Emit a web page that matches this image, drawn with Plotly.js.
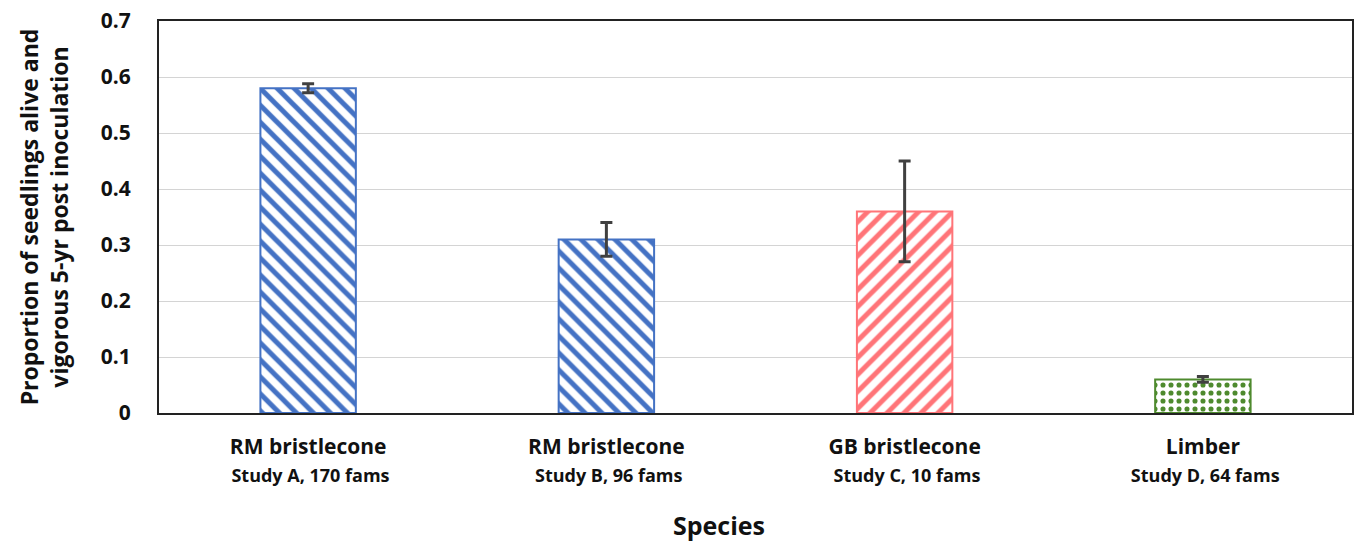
<!DOCTYPE html>
<html>
<head>
<meta charset="utf-8">
<script src="https://cdn.plot.ly/plotly-3.0.1.min.js"></script>
<style>html,body{margin:0;padding:0;background:#fff;}#chart{width:1354px;height:545px;}</style>
</head>
<body>
<div id="chart"></div>
<script>
const species = ["RM bristlecone", "RM bristlecone", "GB bristlecone", "Limber"];
const studies = ["Study A, 170 fams", "Study B, 96 fams", "Study C, 10 fams", "Study D, 64 fams"];
const values = [0.58, 0.31, 0.36, 0.06];
const errors = [0.008, 0.03, 0.09, 0.005];
const yTicks = [0, 0.1, 0.2, 0.3, 0.4, 0.5, 0.6, 0.7];
const yTickLabels = ["0", "0.1", "0.2", "0.3", "0.4", "0.5", "0.6", "0.7"];

const barColors = ["#4472C4", "#4472C4", "#FF7478", "#4E8A2E"];
const barPatterns = ["\\", "\\", "/", "."];

const FONT = "'Open Sans', sans-serif";
const cats = species.map((s, i) => "c" + i);
const tickText = species.map((s, i) =>
  "<b>" + s + "</b><br><span style='font-size:18px'><b>&nbsp;" + studies[i] + "</b></span>");

const trace = {
  type: "bar",
  x: cats,
  y: values,
  width: 0.32,
  marker: {
    color: "#ffffff",
    line: {color: barColors, width: 2},
    pattern: {
      shape: barPatterns,
      fgcolor: barColors,
      bgcolor: "#ffffff",
      fillmode: "replace",
      size: [12, 12, 12, 8],
      solidity: [0.42, 0.42, 0.42, 0.32]
    }
  },
  error_y: {type: "data", array: errors, visible: true, color: "#404040", thickness: 3, width: 6},
  hoverinfo: "none"
};

const layout = {
  width: 1354, height: 545,
  margin: {l: 159, r: 2, t: 21, b: 132},
  paper_bgcolor: "#fff", plot_bgcolor: "#fff",
  font: {family: FONT, color: "#000"},
  showlegend: false,
  xaxis: {
    tickmode: "array", tickvals: cats, ticktext: tickText,
    tickfont: {size: 21, family: FONT, color: "#111"},
    showline: true, linecolor: "#222", linewidth: 2, mirror: true,
    ticks: "outside", ticklen: 14, tickcolor: "rgba(0,0,0,0)",
    showgrid: false, zeroline: false
  },
  yaxis: {
    range: [0, 0.7],
    tickmode: "array", tickvals: yTicks, ticktext: yTickLabels.map(t => "<b>" + t + "</b>"),
    tickfont: {size: 21, family: FONT, color: "#111"},
    ticklabelstandoff: 22,
    showline: true, linecolor: "#222", linewidth: 2, mirror: true,
    showgrid: true, gridcolor: "#d4d4d4", gridwidth: 1,
    zeroline: false,
    title: {text: "<b>Proportion of seedlings alive and<br>vigorous 5-yr post inoculation</b>",
            font: {size: 23, family: FONT, color: "#111"}, standoff: 26}
  },
  annotations: [{
    text: "<b>Species</b>", xref: "paper", yref: "paper",
    x: (719 - 159) / (1352 - 159), y: -0.285, xanchor: "center", yanchor: "middle",
    showarrow: false, font: {size: 25, family: FONT, color: "#111"}
  }]
};

Plotly.newPlot("chart", [trace], layout, {displayModeBar: false, staticPlot: true});
</script>
</body>
</html>
